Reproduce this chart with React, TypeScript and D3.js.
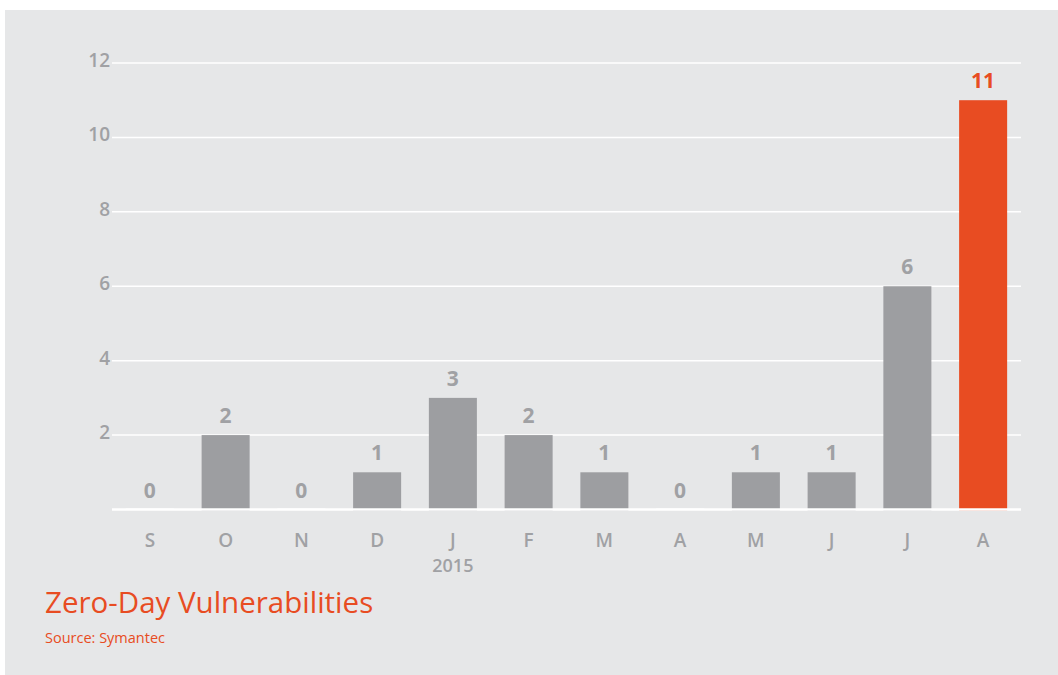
import React from "react";
import * as d3 from "d3";

const months = ["S", "O", "N", "D", "J", "F", "M", "A", "M", "J", "J", "A"];
const counts = [0, 2, 0, 1, 3, 2, 1, 0, 1, 1, 6, 11];
const yTicks = [2, 4, 6, 8, 10, 12];
const yearLabel = "2015";
const yearIndex = 4;

const W = 1058;
const H = 675;
const BG = "#e6e7e8";
const GREY = "#9d9ea1";
const LABEL = "#a0a1a4";
const ORANGE = "#e84c22";
const FONT = "'Open Sans', 'Noto Sans', sans-serif";

export default function App() {
  const left = 112;
  const right = 1021;
  const x = d3
    .scaleBand<number>()
    .domain(d3.range(months.length))
    .range([left, right])
    .paddingInner(0.366)
    .paddingOuter(0.183);
  const y = d3.scaleLinear().domain([0, 12]).range([509.5, 63]);
  const last = counts.length - 1;

  return (
    <svg
      width={W}
      height={H}
      style={{ position: "absolute", left: 0, top: 0, display: "block" }}
      fontFamily={FONT}
    >
      <rect x={0} y={0} width={W} height={H} fill="#ffffff" />
      <rect x={5} y={10} width={W - 5} height={H - 10} fill={BG} />

      {yTicks.map((t) => (
        <g key={t}>
          <line x1={left} x2={right} y1={y(t)} y2={y(t)} stroke="#ffffff" strokeWidth={1.5} />
          <text
            x={110}
            y={y(t) + 4}
            textAnchor="end"
            fontSize={19}
            fontWeight={600}
            fill={LABEL}
          >
            {t}
          </text>
        </g>
      ))}

      {counts.map((v, i) => {
        const bx = x(i)!;
        const cx = bx + x.bandwidth() / 2;
        const isLast = i === last;
        return (
          <g key={i}>
            {v > 0 ? (
              <rect
                x={bx}
                y={y(v)}
                width={x.bandwidth()}
                height={y(0) + 1 - y(v)}
                fill={isLast ? ORANGE : GREY}
              />
            ) : (
              <rect x={bx} y={y(0) - 1.5} width={x.bandwidth()} height={1} fill="#f2f2f3" />
            )}
            <text
              x={cx}
              y={y(v) - 12}
              textAnchor="middle"
              fontSize={21}
              fontWeight={700}
              fill={isLast ? ORANGE : LABEL}
            >
              {v}
            </text>
            <text x={cx} y={547} textAnchor="middle" fontSize={19} fontWeight={600} fill={LABEL}>
              {months[i]}
            </text>
            {i === yearIndex && (
              <text x={cx} y={572} textAnchor="middle" fontSize={18} fontWeight={600} fill={LABEL}>
                {yearLabel}
              </text>
            )}
          </g>
        );
      })}

      <line x1={left} x2={right} y1={y(0)} y2={y(0)} stroke="#ffffff" strokeWidth={2.5} />

      <text x={45} y={613} fontSize={29.5} fill={ORANGE}>
        Zero-Day Vulnerabilities
      </text>
      <text x={45} y={643} fontSize={14.5} fill={ORANGE}>
        Source: Symantec
      </text>
    </svg>
  );
}
